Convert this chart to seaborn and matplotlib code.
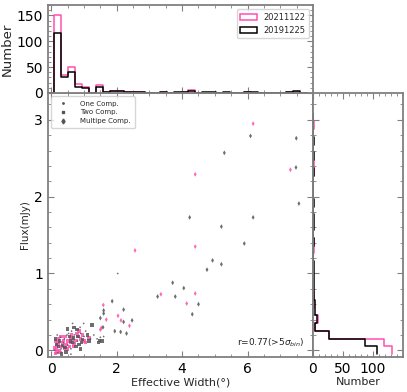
import numpy as np
import pandas as pd
import seaborn as sns
import matplotlib.pyplot as plt
from matplotlib.lines import Line2D
from matplotlib.patches import Patch

PINK = '#ff4fae'
GRAY = '#555555'

# scatter points: 20211122 (pink)
pink_w = [0.15, 0.2, 0.25, 0.3, 0.12, 0.18, 0.35, 0.4, 0.45, 0.22, 0.5, 0.55, 0.6, 0.65, 0.7, 0.75,
          0.8, 0.85, 0.9, 1.0, 1.05, 0.3, 0.15, 0.1, 0.28, 0.38, 0.48, 0.58, 0.68, 0.78, 0.42, 0.62,
          1.15, 0.95, 0.12, 0.2, 1.53, 1.5, 1.59, 1.68, 2.04, 2.13, 2.39, 2.56, 3.35, 4.14, 4.40,
          4.40, 4.40, 6.17, 7.31]
pink_f = [0.02, 0.08, 0.0, 0.05, 0.12, -0.02, 0.1, 0.03, 0.08, 0.15, 0.12, 0.05, 0.1, 0.15, 0.08, 0.13,
          0.18, 0.25, 0.15, 0.12, 0.1, 0.18, 0.06, 0.03, -0.03, 0.13, 0.02, 0.16, 0.05, 0.22, 0.18, 0.2,
          0.16, 0.2, -0.04, 0.1, 0.29, 0.27, 0.59, 0.40, 0.45, 0.39, 0.32, 1.30, 0.73, 0.61, 0.74,
          1.35, 2.29, 2.95, 2.35]
pink_c = ['Two'] * 36 + ['Multi'] * 15

# scatter points: 20191225 (gray)
gray_w = [0.1, 0.15, 0.2, 0.25, 0.3, 0.35, 0.4, 0.45, 0.5, 0.55, 0.6, 0.65, 0.7, 0.75, 0.8, 0.85,
          0.9, 0.95, 1.0, 1.1, 1.2, 1.25, 0.99, 0.78, 0.53, 0.12, 0.18, 0.22, 0.28, 0.32, 0.38, 0.42,
          0.48, 0.58, 0.62, 0.68, 0.72, 0.82, 0.88, 0.92, 1.05, 1.15, 0.6, 0.9, 1.4, 1.45, 1.5, 1.55,
          1.6, 1.48, 1.3, 0.7, 0.65, 0.5,
          2.03, 1.86, 1.60, 1.60, 1.58, 2.21, 2.21, 2.47, 1.50, 1.94, 2.12, 2.30, 3.25, 3.71, 3.79,
          4.05, 4.31, 4.50, 4.76, 4.93, 5.20, 5.20, 5.90, 4.23, 6.17, 7.57, 7.48, 5.29, 6.09, 7.49]
gray_f = [0.0, 0.08, -0.03, 0.12, 0.02, 0.06, 0.15, -0.02, 0.07, 0.18, 0.02, 0.1, 0.2, 0.05, 0.12, 0.08,
          0.22, 0.14, 0.18, 0.2, 0.15, 0.33, 0.35, 0.27, 0.22, 0.15, 0.2, 0.05, 0.17, -0.05, 0.1, 0.04,
          0.2, 0.12, 0.25, 0.16, 0.1, 0.18, 0.3, 0.1, 0.25, 0.12, -0.05, 0.02, 0.15, 0.1, 0.17, 0.12,
          0.18, 0.13, 0.2, 0.3, 0.35, 0.28,
          1.00, 0.64, 0.52, 0.48, 0.30, 0.53, 0.37, 0.39, 0.42, 0.25, 0.24, 0.22, 0.70, 0.88, 0.70,
          0.81, 0.47, 0.60, 1.05, 1.17, 1.12, 1.61, 1.39, 1.73, 1.73, 1.91, 2.38, 2.57, 2.79, 2.76]
gray_c = (['One', 'Two'] * 27) + ['One'] + ['Multi'] * 29

# histogram counts (an empty bin on each side closes the outline)
top_edges = np.linspace(0.09 - 0.2146, 7.6 + 0.2146, 38).tolist()
pink_top = [0, 150, 35, 50, 17, 12, 0, 15, 2, 4, 4, 2, 1, 1, 0, 0, 1, 0, 0, 1, 5, 0, 0, 0, 0, 0, 0, 0, 1,
            0, 0, 0, 0, 0, 1, 2, 0]
black_top = [0, 116, 31, 40, 12, 9, 0, 12, 1, 4, 3, 2, 1, 1, 0, 0, 1, 0, 1, 1, 3, 0, 1, 2, 0, 1, 0, 0, 1,
             1, 0, 0, 0, 0, 1, 3, 0]
right_edges = np.linspace(-0.05, 3.081, 32).tolist()
pink_right = [132, 118, 27, 4, 8, 0, 2, 2, 0, 0, 0, 0, 0, 1, 1, 0, 0, 0, 0, 0, 0, 0, 0, 1, 1, 0, 0, 0, 0, 1, 0]
black_right = [107, 86, 27, 3, 6, 3, 3, 2, 2, 1, 1, 2, 0, 0, 1, 0, 1, 2, 0, 1, 0, 0, 0, 1, 0, 1, 0, 2, 0, 0, 0]

df = pd.DataFrame({
    'width': pink_w + gray_w,
    'flux': pink_f + gray_f,
    'date': ['20211122'] * len(pink_w) + ['20191225'] * len(gray_w),
    'comp': pink_c + gray_c,
})

sns.set_style('ticks')
plt.rcParams['font.family'] = ['DejaVu Sans']
plt.rcParams['axes.edgecolor'] = '#808080'
plt.rcParams['xtick.color'] = '#808080'
plt.rcParams['ytick.color'] = '#808080'
plt.rcParams['xtick.labelcolor'] = 'black'
plt.rcParams['ytick.labelcolor'] = 'black'

fig = plt.figure(figsize=(4.07, 3.92), dpi=100)
ax = fig.add_axes([0.118, 0.089, 0.651, 0.674])
axt = fig.add_axes([0.118, 0.763, 0.651, 0.224], sharex=ax)
axr = fig.add_axes([0.769, 0.089, 0.221, 0.674], sharey=ax)

markers = {'One': '.', 'Two': 's', 'Multi': 'd'}
sns.scatterplot(data=df, x='width', y='flux', hue='date', style='comp', markers=markers,
                palette={'20211122': PINK, '20191225': GRAY}, s=6, linewidth=0, alpha=0.85,
                legend=False, ax=ax)

def centers(e):
    e = np.asarray(e)
    return (e[:-1] + e[1:]) / 2

for counts, col in [(pink_top, PINK), (black_top, 'black')]:
    h = pd.DataFrame({'x': centers(top_edges), 'n': counts})
    sns.histplot(data=h, x='x', weights='n', bins=top_edges, element='step', fill=False,
                 color=col, linewidth=1.1, ax=axt)
for counts, col in [(pink_right, PINK), (black_right, 'black')]:
    h = pd.DataFrame({'y': centers(right_edges), 'n': counts})
    sns.histplot(data=h, y='y', weights='n', bins=right_edges, element='step', fill=False,
                 color=col, linewidth=1.1, ax=axr)

ax.set_xlim(-0.1, 8.0)
ax.set_ylim(-0.088, 3.35)
axt.set_ylim(0, 170)
axr.set_xlim(0, 150)

ax.set_xticks([0, 2, 4, 6])
ax.set_yticks([0, 1, 2, 3])
axt.set_yticks([0, 50, 100, 150])
axr.set_xticks([0, 50, 100])

for a in (ax, axt, axr):
    a.minorticks_on()
    a.tick_params(which='both', direction='in', top=True, right=True, labelsize=10)
    a.tick_params(which='major', length=4)
    a.tick_params(which='minor', length=2)
    for sp in a.spines.values():
        sp.set_linewidth(1.3)
axt.tick_params(labelbottom=False)
axr.tick_params(labelleft=False)

ax.set_xlabel('Effective Width(°)', fontsize=8, labelpad=1)
ax.set_ylabel('Flux(mJy)', fontsize=7.5, labelpad=3)
axt.set_ylabel('Number', fontsize=9.5, labelpad=2)
axt.set_xlabel('')
axr.set_xlabel('Number', fontsize=8, labelpad=1)
axr.set_ylabel('')

ax.text(0.97, 0.03, r'r=0.77(>5$\sigma_{bin}$)', transform=ax.transAxes, ha='right', va='bottom',
        fontsize=6.5)

comp_handles = [Line2D([], [], ls='none', marker='.', color=GRAY, ms=2),
                Line2D([], [], ls='none', marker='s', color=GRAY, ms=2),
                Line2D([], [], ls='none', marker='d', color=GRAY, ms=2.5)]
ax.legend(comp_handles, ['One Comp.', 'Two Comp.', 'Multipe Comp.'], loc='upper left', fontsize=5,
          frameon=True, handletextpad=1.5, borderpad=0.6, labelspacing=0.4,
          bbox_to_anchor=(0.0, 1.0))

date_handles = [Patch(facecolor='none', edgecolor=PINK, linewidth=1.1),
                Patch(facecolor='none', edgecolor='black', linewidth=1.1)]
axt.legend(date_handles, ['20211122', '20191225'], loc='upper right', fontsize=6, frameon=True,
           handlelength=2.0, handleheight=0.8)

fig.savefig('out.png', dpi=100)
